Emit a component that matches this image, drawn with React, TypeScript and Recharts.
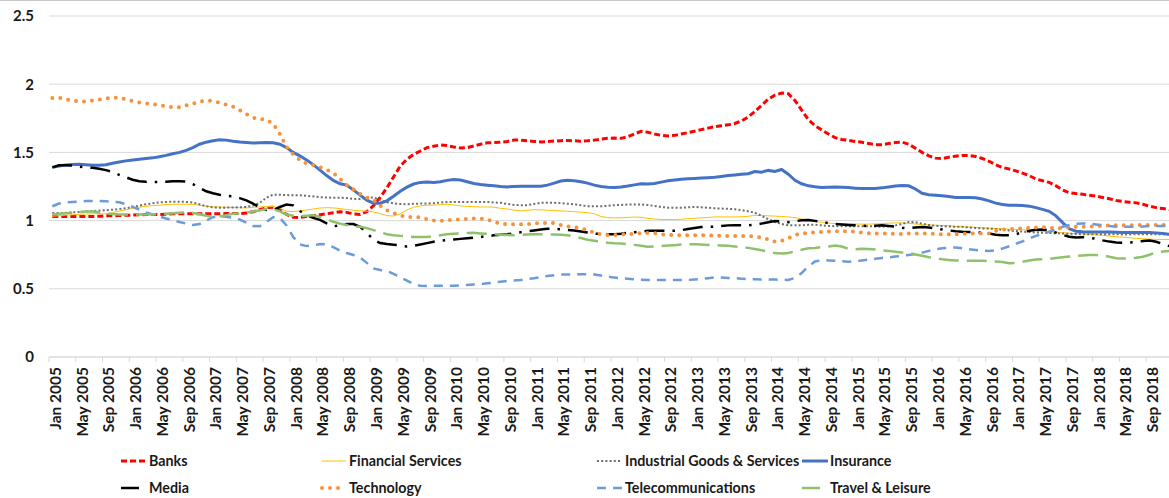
import { CartesianGrid, Line, LineChart, XAxis, YAxis } from 'recharts'

// monthly sector indices, Jan 2005 .. Dec 2018 (one row per year)
const MONTH_NAMES = ['Jan', 'Feb', 'Mar', 'Apr', 'May', 'Jun', 'Jul', 'Aug', 'Sep', 'Oct', 'Nov', 'Dec']
const YEARS = [2005, 2006, 2007, 2008, 2009, 2010, 2011, 2012, 2013, 2014, 2015, 2016, 2017, 2018]
const CATEGORIES = YEARS.flatMap((y) => MONTH_NAMES.map((m) => `${m} ${y}`))
const Y_TICKS = [0, 0.5, 1, 1.5, 2, 2.5]

const BANKS = [
  1.03, 1.03, 1.03, 1.03, 1.03, 1.03, 1.03, 1.032, 1.035, 1.035, 1.037, 1.04,
  1.04, 1.042, 1.045, 1.045, 1.045, 1.047, 1.05, 1.05, 1.05, 1.05, 1.05, 1.05,
  1.05, 1.05, 1.052, 1.052, 1.052, 1.055, 1.065, 1.08, 1.095, 1.098, 1.08, 1.045,
  1.025, 1.023, 1.03, 1.036, 1.043, 1.05, 1.058, 1.064, 1.06, 1.05, 1.045, 1.065,
  1.11, 1.17, 1.24, 1.32, 1.4, 1.45, 1.485, 1.51, 1.535, 1.545, 1.555, 1.55,
  1.54, 1.533, 1.535, 1.547, 1.56, 1.57, 1.572, 1.575, 1.58, 1.59, 1.59, 1.585,
  1.58, 1.577, 1.58, 1.583, 1.586, 1.588, 1.585, 1.582, 1.585, 1.59, 1.597, 1.603,
  1.605, 1.603, 1.615, 1.635, 1.655, 1.648, 1.635, 1.625, 1.62, 1.625, 1.635, 1.645,
  1.655, 1.667, 1.678, 1.688, 1.695, 1.702, 1.712, 1.73, 1.76, 1.8, 1.845, 1.89,
  1.92, 1.935, 1.93, 1.88, 1.81, 1.74, 1.695, 1.665, 1.635, 1.608, 1.595, 1.588,
  1.58, 1.574, 1.565, 1.557, 1.557, 1.565, 1.572, 1.575, 1.56, 1.53, 1.5, 1.475,
  1.458, 1.455, 1.465, 1.472, 1.478, 1.478, 1.47, 1.455, 1.435, 1.41, 1.39, 1.378,
  1.365, 1.348, 1.33, 1.305, 1.292, 1.28, 1.255, 1.225, 1.205, 1.198, 1.193, 1.185,
  1.18, 1.17, 1.16, 1.148, 1.14, 1.135, 1.13, 1.12, 1.105, 1.095, 1.088, 1.08,
]

const FINANCIAL = [
  1.032, 1.036, 1.04, 1.043, 1.046, 1.048, 1.05, 1.05, 1.05, 1.058, 1.07, 1.08,
  1.09, 1.098, 1.105, 1.11, 1.113, 1.117, 1.12, 1.12, 1.12, 1.118, 1.113, 1.105,
  1.1, 1.1, 1.098, 1.096, 1.094, 1.093, 1.097, 1.1, 1.103, 1.103, 1.09, 1.068,
  1.066, 1.072, 1.078, 1.085, 1.092, 1.095, 1.093, 1.088, 1.082, 1.076, 1.072, 1.068,
  1.063, 1.052, 1.036, 1.034, 1.05, 1.078, 1.098, 1.108, 1.113, 1.113, 1.117, 1.12,
  1.115, 1.108, 1.104, 1.102, 1.1, 1.1, 1.098, 1.09, 1.085, 1.077, 1.071, 1.075,
  1.08, 1.079, 1.076, 1.074, 1.071, 1.068, 1.065, 1.062, 1.058, 1.05, 1.03, 1.022,
  1.02, 1.021, 1.023, 1.026, 1.024, 1.016, 1.012, 1.008, 1.008, 1.008, 1.01, 1.014,
  1.017, 1.02, 1.023, 1.027, 1.027, 1.027, 1.027, 1.028, 1.032, 1.038, 1.037, 1.035,
  1.033, 1.03, 1.027, 1.022, 1.012, 1.0, 0.993, 0.988, 0.982, 0.978, 0.977, 0.976,
  0.975, 0.974, 0.974, 0.976, 0.978, 0.981, 0.983, 0.983, 0.98, 0.975, 0.97, 0.968,
  0.966, 0.964, 0.962, 0.958, 0.955, 0.953, 0.95, 0.947, 0.944, 0.942, 0.94, 0.937,
  0.935, 0.933, 0.929, 0.925, 0.921, 0.917, 0.915, 0.912, 0.908, 0.905, 0.902, 0.9,
  0.896, 0.892, 0.886, 0.882, 0.878, 0.874, 0.87, 0.867, 0.864, 0.862, 0.862, 0.862,
]

const INDUSTRIAL = [
  1.055, 1.056, 1.057, 1.06, 1.063, 1.067, 1.07, 1.073, 1.076, 1.08, 1.085, 1.09,
  1.1, 1.11, 1.12, 1.127, 1.133, 1.137, 1.138, 1.138, 1.137, 1.133, 1.12, 1.105,
  1.097, 1.095, 1.095, 1.096, 1.098, 1.1, 1.11, 1.13, 1.168, 1.19, 1.19, 1.187,
  1.186, 1.186, 1.182, 1.177, 1.172, 1.169, 1.168, 1.168, 1.165, 1.158, 1.158, 1.17,
  1.17, 1.15, 1.135, 1.127, 1.122, 1.12, 1.123, 1.125, 1.125, 1.128, 1.132, 1.136,
  1.137, 1.137, 1.137, 1.137, 1.137, 1.137, 1.133, 1.13, 1.122, 1.115, 1.113, 1.113,
  1.122, 1.13, 1.13, 1.13, 1.128, 1.124, 1.12, 1.112, 1.106, 1.105, 1.105, 1.108,
  1.113, 1.115, 1.118, 1.118, 1.118, 1.114, 1.108, 1.1, 1.095, 1.095, 1.095, 1.097,
  1.1, 1.097, 1.094, 1.09, 1.088, 1.086, 1.083, 1.077, 1.068, 1.058, 1.035, 1.01,
  0.99, 0.975, 0.966, 0.966, 0.966, 0.969, 0.97, 0.965, 0.961, 0.959, 0.959, 0.959,
  0.959, 0.959, 0.959, 0.957, 0.955, 0.958, 0.965, 0.975, 0.99, 0.988, 0.978, 0.968,
  0.962, 0.959, 0.957, 0.955, 0.954, 0.95, 0.946, 0.942, 0.942, 0.938, 0.932, 0.928,
  0.923, 0.919, 0.916, 0.913, 0.911, 0.909, 0.907, 0.905, 0.903, 0.902, 0.9, 0.9,
  0.9, 0.9, 0.9, 0.9, 0.898, 0.899, 0.9, 0.9, 0.9, 0.9, 0.9, 0.9,
]

const INSURANCE = [
  1.39, 1.4, 1.408, 1.412, 1.413, 1.41, 1.406, 1.406, 1.41, 1.42, 1.43, 1.438,
  1.445, 1.45, 1.455, 1.46, 1.468, 1.478, 1.49, 1.5, 1.515, 1.535, 1.56, 1.575,
  1.585, 1.592, 1.59, 1.582, 1.576, 1.572, 1.569, 1.57, 1.572, 1.57, 1.56, 1.535,
  1.5, 1.475, 1.445, 1.41, 1.37, 1.33, 1.295, 1.27, 1.26, 1.225, 1.187, 1.15,
  1.128, 1.127, 1.145, 1.178, 1.215, 1.245, 1.268, 1.28, 1.283, 1.28, 1.285, 1.295,
  1.302, 1.298, 1.285, 1.272, 1.265, 1.26, 1.255, 1.25, 1.247, 1.25, 1.252, 1.252,
  1.252, 1.252, 1.26, 1.275, 1.29, 1.295, 1.292, 1.285, 1.275, 1.26, 1.25, 1.244,
  1.243, 1.247, 1.253, 1.262, 1.27, 1.268, 1.272, 1.282, 1.292, 1.298, 1.303, 1.306,
  1.309, 1.312, 1.315, 1.318, 1.324, 1.33, 1.335, 1.339, 1.344, 1.36, 1.355, 1.368,
  1.36, 1.375, 1.34, 1.295, 1.27, 1.255, 1.248, 1.243, 1.245, 1.247, 1.245, 1.242,
  1.238, 1.235, 1.235, 1.236, 1.24, 1.247, 1.253, 1.258, 1.255, 1.232, 1.2, 1.19,
  1.186, 1.182, 1.176, 1.17, 1.169, 1.169, 1.167, 1.158, 1.145, 1.128, 1.118, 1.113,
  1.113, 1.11, 1.106, 1.095, 1.082, 1.068, 1.035, 0.985, 0.94, 0.922, 0.918, 0.917,
  0.917, 0.917, 0.916, 0.914, 0.913, 0.913, 0.913, 0.913, 0.912, 0.91, 0.905, 0.9,
]

const MEDIA = [
  1.39, 1.405, 1.406, 1.404, 1.395, 1.39, 1.387, 1.38, 1.37, 1.357, 1.335, 1.318,
  1.3, 1.288, 1.284, 1.283, 1.283, 1.285, 1.288, 1.288, 1.286, 1.268, 1.24, 1.215,
  1.2, 1.19, 1.182, 1.178, 1.165, 1.148, 1.125, 1.095, 1.078, 1.076, 1.1, 1.118,
  1.112, 1.07, 1.04, 1.02, 1.005, 0.98, 0.958, 0.965, 0.975, 0.975, 0.955, 0.91,
  0.86, 0.835, 0.828, 0.823, 0.818, 0.81, 0.816, 0.825, 0.835, 0.845, 0.852, 0.858,
  0.862, 0.866, 0.87, 0.875, 0.88, 0.886, 0.892, 0.896, 0.9, 0.907, 0.915, 0.922,
  0.928, 0.935, 0.94, 0.94, 0.937, 0.932, 0.928, 0.92, 0.912, 0.905, 0.902, 0.9,
  0.9, 0.903, 0.91, 0.915, 0.92, 0.925, 0.925, 0.925, 0.925, 0.925, 0.93, 0.938,
  0.945, 0.953, 0.955, 0.955, 0.96, 0.965, 0.966, 0.966, 0.966, 0.97, 0.978, 0.988,
  0.997, 0.995, 0.988, 0.995, 1.003, 1.005, 0.998, 0.99, 0.982, 0.975, 0.971, 0.968,
  0.966, 0.962, 0.96, 0.962, 0.965, 0.96, 0.955, 0.948, 0.943, 0.95, 0.953, 0.95,
  0.942, 0.935, 0.928, 0.922, 0.918, 0.917, 0.915, 0.91, 0.905, 0.897, 0.893, 0.893,
  0.9, 0.915, 0.925, 0.933, 0.934, 0.93, 0.912, 0.895, 0.882, 0.877, 0.878, 0.875,
  0.866, 0.855, 0.846, 0.84, 0.838, 0.84, 0.843, 0.85, 0.854, 0.845, 0.828, 0.812,
]

const TECHNOLOGY = [
  1.898, 1.9, 1.89, 1.88, 1.874, 1.874, 1.882, 1.888, 1.895, 1.9, 1.9, 1.89,
  1.876, 1.866, 1.86, 1.853, 1.847, 1.837, 1.83, 1.832, 1.845, 1.857, 1.873, 1.88,
  1.877, 1.865, 1.85, 1.835, 1.81, 1.78, 1.755, 1.745, 1.74, 1.71, 1.635, 1.54,
  1.485, 1.445, 1.417, 1.407, 1.392, 1.373, 1.35, 1.305, 1.26, 1.228, 1.195, 1.17,
  1.15, 1.11, 1.075, 1.055, 1.037, 1.027, 1.027, 1.023, 1.01, 1.0, 0.998, 1.003,
  1.007, 1.008, 1.012, 1.015, 1.015, 1.01, 0.99, 0.978, 0.974, 0.974, 0.974, 0.974,
  0.98, 0.983, 0.983, 0.982, 0.968, 0.957, 0.952, 0.945, 0.93, 0.912, 0.9, 0.895,
  0.893, 0.9, 0.9, 0.903, 0.908, 0.91, 0.908, 0.9, 0.895, 0.893, 0.893, 0.893,
  0.893, 0.893, 0.893, 0.89, 0.888, 0.888, 0.888, 0.888, 0.886, 0.883, 0.875, 0.862,
  0.845, 0.852, 0.872, 0.895, 0.905, 0.91, 0.915, 0.917, 0.92, 0.922, 0.922, 0.922,
  0.918, 0.912, 0.908, 0.905, 0.905, 0.905, 0.902, 0.902, 0.905, 0.905, 0.905, 0.905,
  0.903, 0.9, 0.9, 0.9, 0.902, 0.905, 0.905, 0.905, 0.905, 0.925, 0.935, 0.937,
  0.94, 0.942, 0.946, 0.95, 0.952, 0.95, 0.94, 0.947, 0.954, 0.954, 0.954, 0.955,
  0.958, 0.962, 0.965, 0.966, 0.966, 0.966, 0.967, 0.967, 0.967, 0.967, 0.967, 0.967,
]

const TELECOM = [
  1.105, 1.125, 1.133, 1.137, 1.14, 1.143, 1.144, 1.144, 1.142, 1.138, 1.135, 1.12,
  1.1, 1.08, 1.06, 1.045, 1.03, 1.015, 1.002, 0.99, 0.978, 0.968, 0.975, 1.0,
  1.025, 1.032, 1.028, 1.02, 1.008, 0.985, 0.96, 0.958, 0.99, 1.025, 1.02, 0.965,
  0.88, 0.825, 0.813, 0.818, 0.828, 0.825, 0.805, 0.78, 0.762, 0.748, 0.73, 0.69,
  0.65, 0.638, 0.63, 0.61, 0.585, 0.56, 0.535, 0.522, 0.52, 0.522, 0.522, 0.522,
  0.522, 0.525, 0.528, 0.532, 0.535, 0.54, 0.546, 0.552, 0.557, 0.561, 0.565, 0.572,
  0.578, 0.586, 0.594, 0.6, 0.605, 0.605, 0.606, 0.607, 0.607, 0.605, 0.598, 0.59,
  0.582, 0.577, 0.573, 0.569, 0.567, 0.565, 0.564, 0.564, 0.564, 0.564, 0.564, 0.565,
  0.568, 0.572, 0.578, 0.583, 0.582, 0.58, 0.578, 0.574, 0.571, 0.57, 0.569, 0.569,
  0.568, 0.566, 0.565, 0.58, 0.615, 0.665, 0.7, 0.71, 0.708, 0.705, 0.702, 0.698,
  0.702, 0.708, 0.714, 0.72, 0.726, 0.731, 0.736, 0.741, 0.748, 0.755, 0.765, 0.778,
  0.79, 0.797, 0.802, 0.802, 0.797, 0.79, 0.785, 0.78, 0.778, 0.782, 0.795, 0.812,
  0.83, 0.848, 0.868, 0.888, 0.902, 0.918, 0.935, 0.955, 0.968, 0.977, 0.979, 0.978,
  0.972, 0.966, 0.96, 0.955, 0.954, 0.954, 0.954, 0.956, 0.96, 0.961, 0.961, 0.961,
]

const TRAVEL = [
  1.045, 1.05, 1.053, 1.058, 1.063, 1.066, 1.067, 1.06, 1.052, 1.048, 1.045, 1.045,
  1.045, 1.045, 1.045, 1.046, 1.047, 1.05, 1.053, 1.057, 1.06, 1.055, 1.047, 1.035,
  1.028, 1.03, 1.04, 1.05, 1.053, 1.058, 1.066, 1.075, 1.085, 1.082, 1.068, 1.045,
  1.035, 1.032, 1.036, 1.04, 1.027, 1.01, 0.992, 0.978, 0.968, 0.959, 0.955, 0.945,
  0.93, 0.915, 0.9, 0.893, 0.888, 0.884, 0.88, 0.88, 0.88, 0.885, 0.893, 0.9,
  0.904, 0.906, 0.909, 0.91, 0.906, 0.903, 0.9, 0.897, 0.894, 0.893, 0.896, 0.898,
  0.9, 0.9, 0.899, 0.898, 0.896, 0.892, 0.884, 0.872, 0.86, 0.852, 0.845, 0.838,
  0.834, 0.832, 0.828, 0.822, 0.815, 0.808, 0.81, 0.813, 0.817, 0.82, 0.824, 0.827,
  0.826, 0.825, 0.822, 0.82, 0.818, 0.815, 0.81, 0.805, 0.8, 0.792, 0.782, 0.772,
  0.762, 0.759, 0.762, 0.775, 0.787, 0.797, 0.8, 0.805, 0.81, 0.818, 0.81, 0.792,
  0.79, 0.794, 0.792, 0.788, 0.782, 0.778, 0.772, 0.766, 0.762, 0.752, 0.742, 0.732,
  0.724, 0.717, 0.712, 0.708, 0.706, 0.705, 0.705, 0.705, 0.703, 0.7, 0.696, 0.688,
  0.69, 0.698, 0.707, 0.714, 0.717, 0.72, 0.726, 0.732, 0.737, 0.741, 0.745, 0.747,
  0.747, 0.745, 0.735, 0.724, 0.722, 0.722, 0.727, 0.735, 0.75, 0.768, 0.774, 0.778,
]

type Series = {
  key: string
  name: string
  values: number[]
  color: string
  width: number
  dash?: string
  cap?: 'round' | 'butt'
}

// drawing order follows the legend (later series on top)
const SERIES: Series[] = [
  { key: 'banks', name: 'Banks', values: BANKS, color: '#ff0000', width: 3, dash: '6 3' },
  { key: 'financial', name: 'Financial Services', values: FINANCIAL, color: '#ffc000', width: 1 },
  { key: 'industrial', name: 'Industrial Goods & Services', values: INDUSTRIAL, color: '#6e6e6e', width: 2, dash: '2 2.2' },
  { key: 'insurance', name: 'Insurance', values: INSURANCE, color: '#4472c4', width: 3 },
  { key: 'media', name: 'Media', values: MEDIA, color: '#000000', width: 2.5, dash: '20 8 2.5 8' },
  { key: 'technology', name: 'Technology', values: TECHNOLOGY, color: '#f7923a', width: 4, dash: '0 8', cap: 'round' },
  { key: 'telecom', name: 'Telecommunications', values: TELECOM, color: '#6c9bd9', width: 2.5, dash: '9 7' },
  { key: 'travel', name: 'Travel & Leisure', values: TRAVEL, color: '#8fc16b', width: 2.5, dash: '20 8' },
]

const data = CATEGORIES.map((month, i) => {
  const row: Record<string, string | number> = { month }
  SERIES.forEach((s) => {
    row[s.key] = s.values[i]
  })
  return row
})

const FONT = 'Lato, "Open Sans", sans-serif'
const TEXT = '#1a1a1a'
const GRID = '#d9d9d9'
const PLOT_W = 1124
const HALF_BAND = PLOT_W / CATEGORIES.length / 2

// legend cells: swatch start, swatch length, text start, row
const LEGEND_POS: Record<string, { x: number; len: number; tx: number; row: number }> = {
  banks: { x: 121, len: 25, tx: 149, row: 0 },
  financial: { x: 322, len: 24, tx: 349, row: 0 },
  industrial: { x: 597, len: 25, tx: 625, row: 0 },
  insurance: { x: 802, len: 26, tx: 830, row: 0 },
  media: { x: 121, len: 18, tx: 149, row: 1 },
  technology: { x: 322, len: 24, tx: 349, row: 1 },
  telecom: { x: 597, len: 25, tx: 625, row: 1 },
  travel: { x: 802, len: 18, tx: 830, row: 1 },
}
const LEGEND_ROW_Y = [461, 488]

function MonthTick(props: any) {
  const { x, y, payload } = props
  return (
    <g>
      <line x1={x - HALF_BAND} x2={x - HALF_BAND} y1={y - 8} y2={y - 3} stroke={GRID} />
      <text
        transform={`translate(${x + 8.5},${y + 2}) rotate(-90)`}
        textAnchor="end"
        fontSize={15.5}
        fontWeight={700}
        fontFamily={FONT}
        fill={TEXT}
      >
        {payload.value}
      </text>
    </g>
  )
}

function SectorLegend() {
  return (
    <>
      {SERIES.map((s) => {
        const p = LEGEND_POS[s.key]
        const cy = LEGEND_ROW_Y[p.row]
        return (
          <div key={s.key}>
            <svg
              width={p.len + 4}
              height={10}
              style={{ position: 'absolute', left: p.x - 2, top: cy - 5 }}
            >
              <line
                x1={2}
                x2={p.len + 2}
                y1={5}
                y2={5}
                stroke={s.color}
                strokeWidth={s.width}
                strokeDasharray={s.dash}
                strokeLinecap={s.cap ?? 'butt'}
              />
            </svg>
            <span
              style={{
                position: 'absolute',
                left: p.tx,
                top: cy - 10,
                lineHeight: '20px',
                fontSize: 14.3,
                fontWeight: 700,
                fontFamily: FONT,
                color: TEXT,
                whiteSpace: 'nowrap',
              }}
            >
              {s.name}
            </span>
          </div>
        )
      })}
    </>
  )
}

export default function App() {
  return (
    <div
      style={{
        position: 'absolute',
        left: 0,
        top: 0,
        width: 1169,
        height: 498,
        overflow: 'hidden',
        background: '#fff',
      }}
    >
      <div style={{ position: 'absolute', left: 0, top: 0, width: 1169, height: 1, background: '#c8c8c8' }} />
      <LineChart width={1173} height={447} data={data} margin={{ top: 16, right: 0, bottom: 0, left: 0 }}>
        <CartesianGrid vertical={false} stroke={GRID} />
        <XAxis
          dataKey="month"
          interval={3}
          height={90}
          tickLine={false}
          axisLine={{ stroke: GRID }}
          padding={{ left: HALF_BAND, right: HALF_BAND }}
          tick={(p: any) => <MonthTick {...p} />}
        />
        <YAxis
          domain={[0, 2.5]}
          ticks={Y_TICKS}
          width={49}
          axisLine={false}
          tickLine={false}
          tickMargin={9}
          tick={{ fill: TEXT, fontSize: 15, fontWeight: 700, fontFamily: FONT }}
        />
        {SERIES.map((s) => (
          <Line
            key={s.key}
            type="linear"
            dataKey={s.key}
            name={s.name}
            stroke={s.color}
            strokeWidth={s.width}
            strokeDasharray={s.dash}
            strokeLinecap={s.cap ?? 'butt'}
            dot={false}
            activeDot={false}
            isAnimationActive={false}
          />
        ))}
      </LineChart>
      <SectorLegend />
    </div>
  )
}
